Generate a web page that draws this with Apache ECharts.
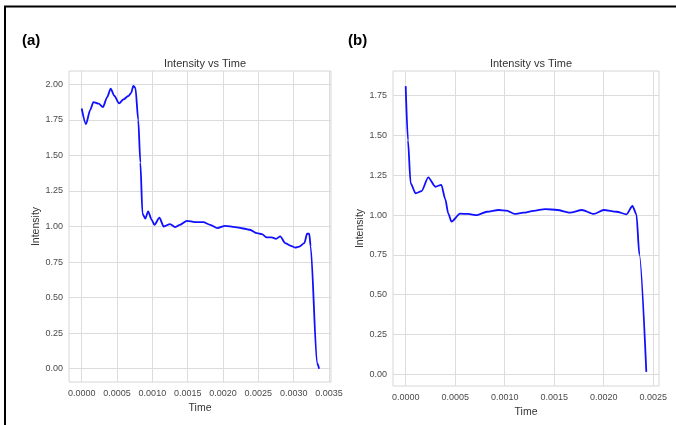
<!DOCTYPE html>
<html>
<head>
<meta charset="utf-8">
<script src="https://cdn.jsdelivr.net/npm/echarts@6/dist/echarts.min.js"></script>
<style>
html,body{margin:0;padding:0;background:#fff;}
#chart{width:676px;height:425px;}
</style>
</head>
<body>
<div id="chart"></div>
<script>
// Panel (a)
var timeA = [0, 0.00006, 0.00012, 0.000165, 0.00024, 0.0003, 0.00036, 0.00041, 0.00046, 0.00053, 0.00059, 0.00066, 0.0007, 0.00073, 0.00076, 0.0008, 0.00083, 0.00086, 0.0009, 0.00094, 0.00099, 0.00103, 0.0011, 0.00116, 0.00125, 0.00132, 0.00139, 0.00149, 0.0016, 0.00172, 0.00182, 0.00192, 0.00203, 0.00217, 0.00231, 0.00238, 0.00248, 0.00255, 0.00262, 0.00269, 0.00275, 0.00281, 0.00288, 0.00295, 0.00302, 0.00308, 0.00315, 0.00319, 0.00322, 0.00324, 0.00333, 0.00336];
var intensityA = [1.83, 1.72, 1.82, 1.875, 1.864, 1.84, 1.91, 1.97, 1.92, 1.866, 1.894, 1.918, 1.94, 1.99, 1.975, 1.75, 1.45, 1.09, 1.055, 1.106, 1.047, 1.012, 1.062, 1.0, 1.017, 0.996, 1.012, 1.04, 1.031, 1.031, 1.012, 0.989, 1.005, 0.996, 0.984, 0.977, 0.953, 0.946, 0.923, 0.923, 0.913, 0.93, 0.883, 0.866, 0.852, 0.859, 0.883, 0.949, 0.949, 0.86, 0.04, 0.0];
var xTicksA = [0, 0.0005, 0.001, 0.0015, 0.002, 0.0025, 0.003, 0.0035];
var yTicksA = [0, 0.25, 0.5, 0.75, 1.0, 1.25, 1.5, 1.75, 2.0];
// Panel (b)
var timeB = [0, 0.000023, 0.00005, 0.0001, 0.00016, 0.000228, 0.0003, 0.00036, 0.0004, 0.00043, 0.000462, 0.00055, 0.00063, 0.00072, 0.00082, 0.00094, 0.00102, 0.0011, 0.00119, 0.00129, 0.00141, 0.00153, 0.00166, 0.00178, 0.0019, 0.002, 0.00213, 0.00223, 0.00229, 0.00233, 0.00236, 0.00243];
var intensityB = [1.81, 1.47, 1.2, 1.137, 1.15, 1.237, 1.178, 1.19, 1.1, 1.01, 0.959, 1.009, 1.007, 1.0, 1.021, 1.032, 1.028, 1.007, 1.015, 1.026, 1.038, 1.032, 1.015, 1.032, 1.007, 1.032, 1.021, 1.005, 1.057, 1.005, 0.75, 0.015];
var xTicksB = [0, 0.0005, 0.001, 0.0015, 0.002, 0.0025];
var yTicksB = [0, 0.25, 0.5, 0.75, 1.0, 1.25, 1.5, 1.75];

var titleText = 'Intensity vs Time';
var xName = 'Time';
var yName = 'Intensity';
var panelLabels = ['(a)', '(b)'];

function pairs(xs, ys) { return xs.map(function (x, i) { return [x, ys[i]]; }); }

var gridColor = '#dcdcdc';
var tickColor = '#4a4a4a';
var textColor = '#333';
var font = 'Liberation Sans, Arial, sans-serif';

function xAxisCfg(idx, min, max, ticks, gap) {
  return {
    type: 'value', gridIndex: idx, min: min, max: max,
    name: xName, nameLocation: 'middle', nameGap: gap,
    nameTextStyle: { color: textColor, fontSize: 10.5, fontFamily: font },
    axisLine: { show: false }, axisTick: { show: false, customValues: ticks },
    axisLabel: { show: true, customValues: ticks, color: tickColor, fontSize: 9, fontFamily: font, margin: 7,
      formatter: function (v) { return v.toFixed(4); } },
    splitLine: { show: true, lineStyle: { color: gridColor, width: 1 } }
  };
}
function yAxisCfg(idx, min, max, ticks, gap) {
  return {
    type: 'value', gridIndex: idx, min: min, max: max,
    name: yName, nameLocation: 'middle', nameGap: gap, nameRotate: 90,
    nameTextStyle: { color: textColor, fontSize: 10.5, fontFamily: font },
    axisLine: { show: false }, axisTick: { show: false, customValues: ticks },
    axisLabel: { show: true, customValues: ticks, color: tickColor, fontSize: 9, fontFamily: font, margin: 6,
      formatter: function (v) { return v.toFixed(2); } },
    splitLine: { show: true, lineStyle: { color: gridColor, width: 1 } }
  };
}

var chart = echarts.init(document.getElementById('chart'), null, { renderer: 'canvas' });
chart.setOption({
  animation: false,
  backgroundColor: '#fff',
  title: [
    { text: titleText, left: 200, top: 53, textAlign: 'center', textStyle: { color: textColor, fontSize: 11, fontWeight: 'normal', fontFamily: font } },
    { text: titleText, left: 526, top: 53, textAlign: 'center', textStyle: { color: textColor, fontSize: 11, fontWeight: 'normal', fontFamily: font } }
  ],
  grid: [
    { left: 69, top: 71, width: 262, height: 311, show: true, borderColor: '#d6d6d6', borderWidth: 1, backgroundColor: 'transparent' },
    { left: 393, top: 71, width: 266, height: 315, show: true, borderColor: '#d6d6d6', borderWidth: 1, backgroundColor: 'transparent' }
  ],
  xAxis: [xAxisCfg(0, -0.00018, 0.003528, xTicksA, 18), xAxisCfg(1, -0.000128, 0.002558, xTicksB, 17)],
  yAxis: [yAxisCfg(0, -0.094, 2.094, yTicksA, 25), yAxisCfg(1, -0.0735, 1.905, yTicksB, 27)],
  series: [
    { type: 'line', xAxisIndex: 0, yAxisIndex: 0, data: pairs(timeA, intensityA), showSymbol: false, smooth: 0.25, smoothMonotone: 'x',
      lineStyle: { color: '#1010ff', width: 1.8 } },
    { type: 'line', xAxisIndex: 1, yAxisIndex: 1, data: pairs(timeB, intensityB), showSymbol: false, smooth: 0.25, smoothMonotone: 'x',
      lineStyle: { color: '#1010ff', width: 1.8 } }
  ],
  graphic: [
    { type: 'line', shape: { x1: 4, y1: 6.5, x2: 676, y2: 6.5 }, style: { stroke: '#000', lineWidth: 2 } },
    { type: 'line', shape: { x1: 5, y1: 6, x2: 5, y2: 425 }, style: { stroke: '#000', lineWidth: 2 } },
    { type: 'text', left: 22, top: 33, style: { text: panelLabels[0], fill: '#000', font: 'bold 15px Liberation Sans, Arial, sans-serif' } },
    { type: 'text', left: 348, top: 33, style: { text: panelLabels[1], fill: '#000', font: 'bold 15px Liberation Sans, Arial, sans-serif' } }
  ]
});
</script>
</body>
</html>
